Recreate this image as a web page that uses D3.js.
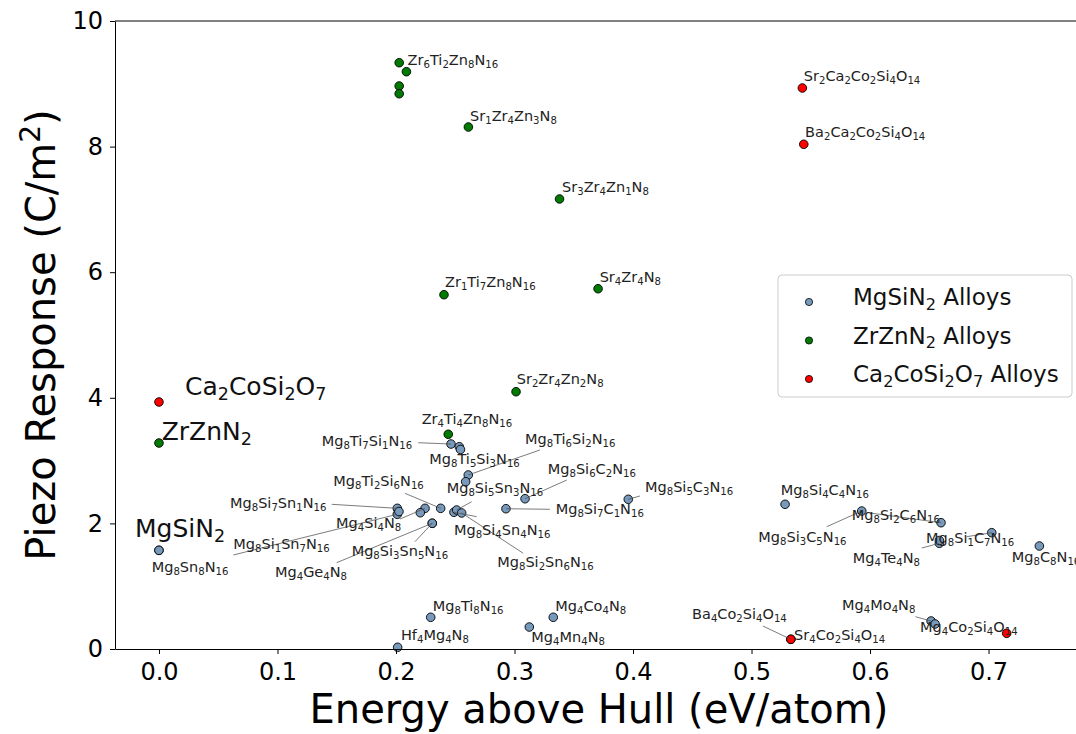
<!DOCTYPE html>
<html>
<head>
<meta charset="utf-8">
<script src="https://cdn.jsdelivr.net/npm/d3@7"></script>
<style>
  html, body { margin: 0; padding: 0; background: #fff; }
  svg { display: block; font-family: "DejaVu Sans", sans-serif; }
</style>
</head>
<body>
<svg id="chart" width="1076" height="734"></svg>
<script>
// ---- data: [name, energy above hull (eV/atom), piezo response (C/m^2)] ----
const mgSiN2Alloys = [
  ["Mg8Sn8N16", 0.0, 1.571],
  ["Mg8Ti7Si1N16", 0.2464, 3.264],
  ["Mg8Ti5Si3N16", 0.2534, 3.221],
  ["", 0.2544, 3.177],
  ["Mg8Ti6Si2N16", 0.2610, 2.771],
  ["", 0.2588, 2.664],
  ["Mg8Si7Sn1N16", 0.2011, 2.240],
  ["Mg8Si1Sn7N16", 0.2011, 2.145],
  ["", 0.2025, 2.189],
  ["Mg4Si4N8", 0.2245, 2.240],
  ["", 0.2205, 2.170],
  ["Mg8Ti2Si6N16", 0.2377, 2.240],
  ["Mg8Si3Sn5N16", 0.2306, 2.002],
  ["Mg4Ge4N8", 0.2306, 2.002],
  ["Mg8Si4Sn4N16", 0.2489, 2.177],
  ["Mg8Si5Sn3N16", 0.2512, 2.213],
  ["Mg8Si2Sn6N16", 0.2554, 2.166],
  ["Mg8Si7C1N16", 0.2928, 2.234],
  ["Mg8Si6C2N16", 0.3089, 2.393],
  ["Mg8Si5C3N16", 0.3960, 2.384],
  ["Mg8Si4C4N16", 0.5283, 2.304],
  ["Mg8Si3C5N16", 0.5930, 2.197],
  ["Mg8Si2C6N16", 0.6599, 2.011],
  ["Mg4Te4N8", 0.6585, 1.683],
  ["", 0.6585, 1.728],
  ["Mg8Si1C7N16", 0.7027, 1.852],
  ["Mg8C8N16", 0.7429, 1.640],
  ["Mg8Ti8N16", 0.2293, 0.505],
  ["Hf4Mg4N8", 0.2014, 0.027],
  ["Mg4Mn4N8", 0.3125, 0.350],
  ["Mg4Co4N8", 0.3327, 0.505],
  ["Mg4Mo4N8", 0.6515, 0.446],
  ["", 0.6549, 0.398]
];

const zrZnN2Alloys = [
  ["Zr6Ti2Zn8N16", 0.2027, 9.336],
  ["", 0.2088, 9.193],
  ["", 0.2027, 8.965],
  ["", 0.2027, 8.842],
  ["Sr1Zr4Zn3N8", 0.2611, 8.312],
  ["Sr3Zr4Zn1N8", 0.3380, 7.166],
  ["Zr1Ti7Zn8N16", 0.2405, 5.642],
  ["Sr4Zr4N8", 0.3705, 5.737],
  ["Sr2Zr4Zn2N8", 0.3013, 4.097],
  ["Zr4Ti4Zn8N16", 0.2441, 3.419]
];

const ca2CoSi2O7Alloys = [
  ["Sr2Ca2Co2Si4O14", 0.5429, 8.933],
  ["Ba2Ca2Co2Si4O14", 0.5441, 8.037],
  ["Sr4Co2Si4O14", 0.5332, 0.154],
  ["Ba4Co2Si4O14", 0.5332, 0.154],
  ["Mg4Co2Si4O14", 0.7153, 0.250]
];

// parent compounds, one per family
const parents = [
  ["MgSiN2", 0.0, 1.571],
  ["ZrZnN2", 0.0, 3.280],
  ["Ca2CoSi2O7", 0.0, 3.933]
];

const seriesNames = ["MgSiN2 Alloys", "ZrZnN2 Alloys", "Ca2CoSi2O7 Alloys"];
const xTicks = [0.0, 0.1, 0.2, 0.3, 0.4, 0.5, 0.6, 0.7];
const yTicks = [0, 2, 4, 6, 8, 10];

// ---- styling / layout ----
const colors = ["#7799bb", "#007a00", "#ff0000"];
const W = 1076, H = 734;
const plot = { left: 115, right: 1083, top: 21, bottom: 649 };

// label placement relative to its point, in pixels: [dx, dy, leaderDx, leaderDy]
const labelLayout = {
  "Mg8Sn8N16": [-7.3, 21.4],
  "Mg8Ti7Si1N16": [-129.3, 1.7, -32.7, -1.3],
  "Mg8Ti5Si3N16": [-30, 17.3],
  "Mg8Ti6Si2N16": [56.7, -31, 71.7, -25],
  "Mg8Si7Sn1N16": [-167.3, -0.6, -65.6, -4],
  "Mg8Si1Sn7N16": [-164, 35, -164, 40.7],
  "Mg4Si4N8": [-89, 19.4, -25, 10.7],
  "Mg8Ti2Si6N16": [-107.4, -22.3, -35.7, -15],
  "Mg8Si3Sn5N16": [-80.6, 32.7, -17.3, 18.4],
  "Mg4Ge4N8": [-157.3, 54, -95.6, 39.4],
  "Mg8Si4Sn4N16": [0, 23, 22.7, 4.4],
  "Mg8Si5Sn3N16": [-10, -16.7, 15, -8.3],
  "Mg8Si2Sn6N16": [35.6, 54.3, 61.6, 40.3],
  "Mg8Si7C1N16": [49.7, 5.6, 44, 0.6],
  "Mg8Si6C2N16": [22.7, -24.7, 41.7, -18.7],
  "Mg8Si5C3N16": [16.7, -7.6, 11.7, -3.3],
  "Mg8Si4C4N16": [-4.3, -9.3],
  "Mg8Si3C5N16": [-103.4, 30.7, -35, 15.7],
  "Mg8Si2C6N16": [-89.3, -2.7, -71, -9.7],
  "Mg4Te4N8": [-86.6, 20, -17.6, 4.7],
  "Mg8Si1C7N16": [-65.7, 10, -25, 4],
  "Mg8C8N16": [-27.6, 15.7],
  "Mg8Ti8N16": [2, -6.6],
  "Hf4Mg4N8": [3.3, -7.3],
  "Mg4Mn4N8": [2, 14.7],
  "Mg4Co4N8": [2, -6.6],
  "Mg4Mo4N8": [-89, -11, -15.6, -4.3],
  "Zr6Ti2Zn8N16": [8.4, 2.3],
  "Sr1Zr4Zn3N8": [1.6, -6.3],
  "Sr3Zr4Zn1N8": [2.5, -7],
  "Zr1Ti7Zn8N16": [1, -7.7],
  "Sr4Zr4N8": [1.6, -7],
  "Sr2Zr4Zn2N8": [0.7, -7.7],
  "Zr4Ti4Zn8N16": [-26.6, -10],
  "Sr2Ca2Co2Si4O14": [1.4, -7],
  "Ba2Ca2Co2Si4O14": [1.3, -7.6],
  "Sr4Co2Si4O14": [3.2, 0.7],
  "Ba4Co2Si4O14": [-98.8, -20, -27.9, -13.3],
  "Mg4Co2Si4O14": [-86.7, -1.6]
};
const parentLayout = {
  "MgSiN2": [-24, -13.6],
  "ZrZnN2": [2.7, -3],
  "Ca2CoSi2O7": [26, -7]
};

const svg = d3.select("#chart");

const x = d3.scaleLinear().domain([-0.0371, 0.7797]).range([plot.left, plot.right]);
const y = d3.scaleLinear().domain([0, 10]).range([plot.bottom, plot.top]);

// chemical formula with subscripted counts
function formula(textSel, str, fs) {
  const parts = str.match(/\d+|[^\d]+/g) || [];
  let down = false;
  const shift = fs * 0.2;
  parts.forEach(p => {
    const t = textSel.append("tspan").text(p);
    if (/^\d+$/.test(p)) {
      t.attr("font-size", fs * 0.7);
      if (!down) { t.attr("dy", shift); down = true; }
    } else if (down) {
      t.attr("dy", -shift);
      down = false;
    }
  });
}

const clipId = "plotclip";
svg.append("clipPath").attr("id", clipId)
  .append("rect").attr("x", plot.left).attr("y", plot.top - 30)
  .attr("width", W - plot.left).attr("height", plot.bottom - plot.top + 60);

const body = svg.append("g");

// ---- axes ----
const xAxis = svg.append("g")
  .attr("transform", `translate(0,${plot.bottom})`)
  .call(d3.axisBottom(x).tickValues(xTicks).tickFormat(d3.format(".1f"))
    .tickSize(5).tickSizeOuter(0).tickPadding(9));
const yAxis = svg.append("g")
  .attr("transform", `translate(${plot.left},0)`)
  .call(d3.axisLeft(y).tickValues(yTicks).tickFormat(d3.format("d"))
    .tickSize(5).tickSizeOuter(0).tickPadding(7));
[xAxis, yAxis].forEach(a => {
  a.selectAll("text").attr("font-size", 24).attr("fill", "#000")
    .attr("font-family", "DejaVu Sans, sans-serif");
  a.selectAll("line").attr("stroke", "#000").attr("stroke-width", 1);
  a.select(".domain").attr("stroke", "#000").attr("stroke-width", 1);
});
// top spine
svg.append("line")
  .attr("x1", plot.left).attr("x2", plot.right)
  .attr("y1", plot.top).attr("y2", plot.top)
  .attr("stroke", "#000").attr("stroke-width", 1);

// axis titles
svg.append("text")
  .attr("x", (plot.left + plot.right) / 2).attr("y", 723)
  .attr("text-anchor", "middle").attr("font-size", 40).attr("fill", "#000")
  .text("Energy above Hull (eV/atom)");
const yl = svg.append("text")
  .attr("transform", `translate(55,${(plot.top + plot.bottom) / 2}) rotate(-90)`)
  .attr("text-anchor", "middle").attr("font-size", 40).attr("fill", "#000");
yl.append("tspan").text("Piezo Response (C/m");
yl.append("tspan").text("2").attr("font-size", 28).attr("dy", -15);
yl.append("tspan").text(")").attr("dy", 15);

// ---- points ----
const groups = [mgSiN2Alloys, zrZnN2Alloys, ca2CoSi2O7Alloys];
const marks = body.append("g").attr("clip-path", `url(#${clipId})`);
groups.forEach((rows, i) => {
  const pts = rows.concat([parents[i]]);
  marks.append("g").selectAll("circle").data(pts).join("circle")
    .attr("cx", d => x(d[1])).attr("cy", d => y(d[2]))
    .attr("r", 4.3)
    .attr("fill", colors[i]).attr("stroke", "#000").attr("stroke-width", 0.9);
});

// ---- labels and leader lines ----
const labelled = groups.flat().filter(d => d[0] && labelLayout[d[0]]);
const leaders = body.append("g").attr("clip-path", `url(#${clipId})`);
const labels = body.append("g").attr("clip-path", `url(#${clipId})`);

labelled.forEach(d => {
  const [dx, dy, lx, ly] = labelLayout[d[0]];
  const px = x(d[1]), py = y(d[2]);
  if (lx !== undefined) {
    leaders.append("line")
      .attr("x1", px + lx).attr("y1", py + ly)
      .attr("x2", px).attr("y2", py)
      .attr("stroke", "#555").attr("stroke-width", 0.9).attr("opacity", 0.85);
  }
  const t = labels.append("text")
    .attr("x", px + dx).attr("y", py + dy)
    .attr("font-size", 14.5).attr("fill", "#222");
  formula(t, d[0], 14.5);
});

parents.forEach(d => {
  const [dx, dy] = parentLayout[d[0]];
  const t = labels.append("text")
    .attr("x", x(d[1]) + dx).attr("y", y(d[2]) + dy)
    .attr("font-size", 25).attr("fill", "#111");
  formula(t, d[0], 25);
});

// ---- legend ----
const lg = svg.append("g").attr("transform", "translate(778,275)");
lg.append("rect").attr("width", 294).attr("height", 122).attr("rx", 4)
  .attr("fill", "#fff").attr("fill-opacity", 0.8)
  .attr("stroke", "#cccccc").attr("stroke-width", 1);
seriesNames.forEach((name, i) => {
  const cy = 22 + i * 38.5;
  lg.append("circle").attr("cx", 31).attr("cy", cy + 5).attr("r", 3.6)
    .attr("fill", colors[i]).attr("stroke", "#000").attr("stroke-width", 0.8);
  const t = lg.append("text").attr("x", 75).attr("y", cy + 8)
    .attr("font-size", 23).attr("fill", "#111");
  formula(t, name, 23);
});
</script>
</body>
</html>
